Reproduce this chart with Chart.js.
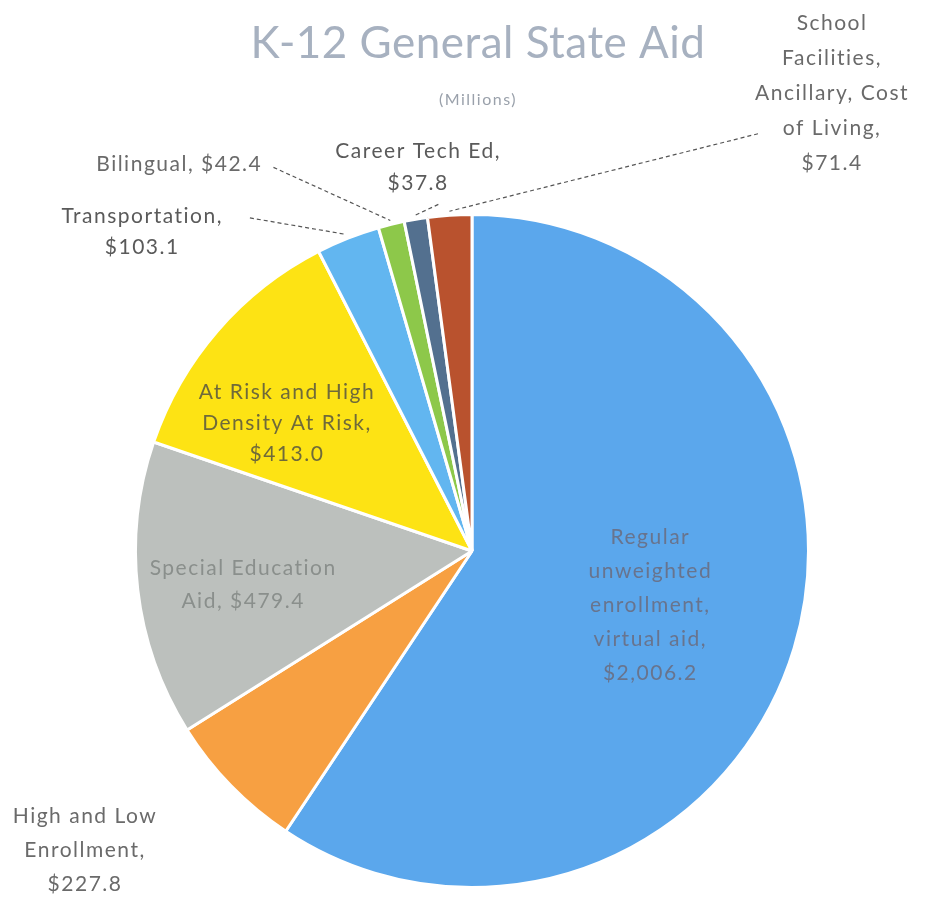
<!DOCTYPE html>
<html>
<head>
<meta charset="utf-8">
<script src="https://cdn.jsdelivr.net/npm/chart.js@4/dist/chart.umd.min.js"></script>
<style>
  html, body { margin: 0; padding: 0; background: #fff; }
  #wrap { width: 927px; height: 899px; position: relative; }
</style>
</head>
<body>
<div id="wrap"><canvas id="aidChart"></canvas></div>
<script>
// Данні (мільйони)
const categories = [
    "Regular unweighted enrollment, virtual aid",
    "High and Low Enrollment",
    "Special Education Aid",
    "At Risk and High Density At Risk",
    "Transportation",
    "Bilingual",
    "Career Tech Ed",
    "School Facilities, Ancillary, Cost of Living"
];
const amounts = [2006.2, 227.8, 479.4, 413.0, 103.1, 42.4, 37.8, 71.4];
const labelLines = [
    ["Regular", "unweighted", "enrollment,", "virtual aid,", "$2,006.2"],
    ["High and Low", "Enrollment,", "$227.8"],
    ["Special Education", "Aid, $479.4"],
    ["At Risk and High", "Density At Risk,", "$413.0"],
    ["Transportation,", "$103.1"],
    ["Bilingual, $42.4"],
    ["Career Tech Ed,", "$37.8"],
    ["School", "Facilities,", "Ancillary, Cost", "of Living,", "$71.4"]
];
const sliceColors = ["#5ba7ec", "#f7a042", "#bcc0bd", "#fde314", "#62b6f0", "#8dc84a", "#53708f", "#b9522e"];

// Розміщення підписів (відносно центру, у частках радіуса)
const labelPlace = [
    { fx: 0.53, fy: 0.16, gap: 34, color: "#68748e" },
    { fx: -1.15, fy: 0.89, gap: 34, color: "#6a6a6a" },
    { fx: -0.68, fy: 0.1, gap: 33, color: "#8a8f8c" },
    { fx: -0.55, fy: -0.38, gap: 31, color: "#6f6a3a" },
    { fx: -0.98, fy: -0.95, gap: 31, color: "#5a5a5a", lx: -0.66, ly: -0.99 },
    { fx: -0.87, fy: -1.15, gap: 30, color: "#6a6a6a", lx: -0.59, ly: -1.14 },
    { fx: -0.16, fy: -1.14, gap: 32, color: "#5a5a5a", lx: -0.1, ly: -1.03 },
    { fx: 1.07, fy: -1.36, gap: 35, color: "#6a6a6a", lx: 0.85, ly: -1.24 }
];

const labelPlugin = {
    id: "sliceLabels",
    afterDraw(chart) {
        const ctx = chart.ctx;
        const arcs = chart.getDatasetMeta(0).data;
        ctx.save();

        // Заголовок
        ctx.textAlign = "center";
        ctx.textBaseline = "middle";
        ctx.fillStyle = "#a7b1c0";
        ctx.font = "44px Lato, 'Open Sans', sans-serif";
        ctx.letterSpacing = "0.5px";
        ctx.fillText("K-12 General State Aid", 478, 44);
        ctx.fillStyle = "#9aa1ab";
        ctx.font = "16px Lato, 'Open Sans', sans-serif";
        ctx.letterSpacing = "1.5px";
        ctx.fillText("(Millions)", 478, 100);

        arcs.forEach((arc, i) => {
            const p = labelPlace[i];
            const r = arc.outerRadius;
            const cx = arc.x, cy = arc.y;
            const lines = labelLines[i];

            // Лінія-виноска
            if (p.lx !== undefined) {
                const mid = (arc.startAngle + arc.endAngle) / 2;
                const ex = cx + Math.cos(mid) * (r + 4);
                const ey = cy + Math.sin(mid) * (r + 4);
                ctx.strokeStyle = "#555";
                ctx.lineWidth = 1.2;
                ctx.setLineDash([4, 3]);
                ctx.beginPath();
                ctx.moveTo(cx + p.lx * r, cy + p.ly * r);
                ctx.lineTo(ex, ey);
                ctx.stroke();
                ctx.setLineDash([]);
            }

            ctx.fillStyle = p.color;
            ctx.font = "21px Lato, 'Open Sans', sans-serif";
            ctx.letterSpacing = "1.5px";
            const x = cx + p.fx * r;
            const y0 = cy + p.fy * r - (lines.length - 1) * p.gap / 2;
            lines.forEach((t, k) => ctx.fillText(t, x, y0 + k * p.gap));
        });
        ctx.restore();
    }
};

new Chart(document.getElementById("aidChart"), {
    type: "pie",
    data: {
        labels: categories,
        datasets: [{
            data: amounts,
            backgroundColor: sliceColors,
            borderColor: "#ffffff",
            borderWidth: 3
        }]
    },
    options: {
        responsive: true,
        maintainAspectRatio: false,
        animation: false,
        layout: { padding: { top: 213, bottom: 10, left: 134, right: 117 } },
        plugins: {
            legend: { display: false },
            tooltip: { enabled: false },
            title: { display: false }
        }
    },
    plugins: [labelPlugin]
});
</script>
</body>
</html>
